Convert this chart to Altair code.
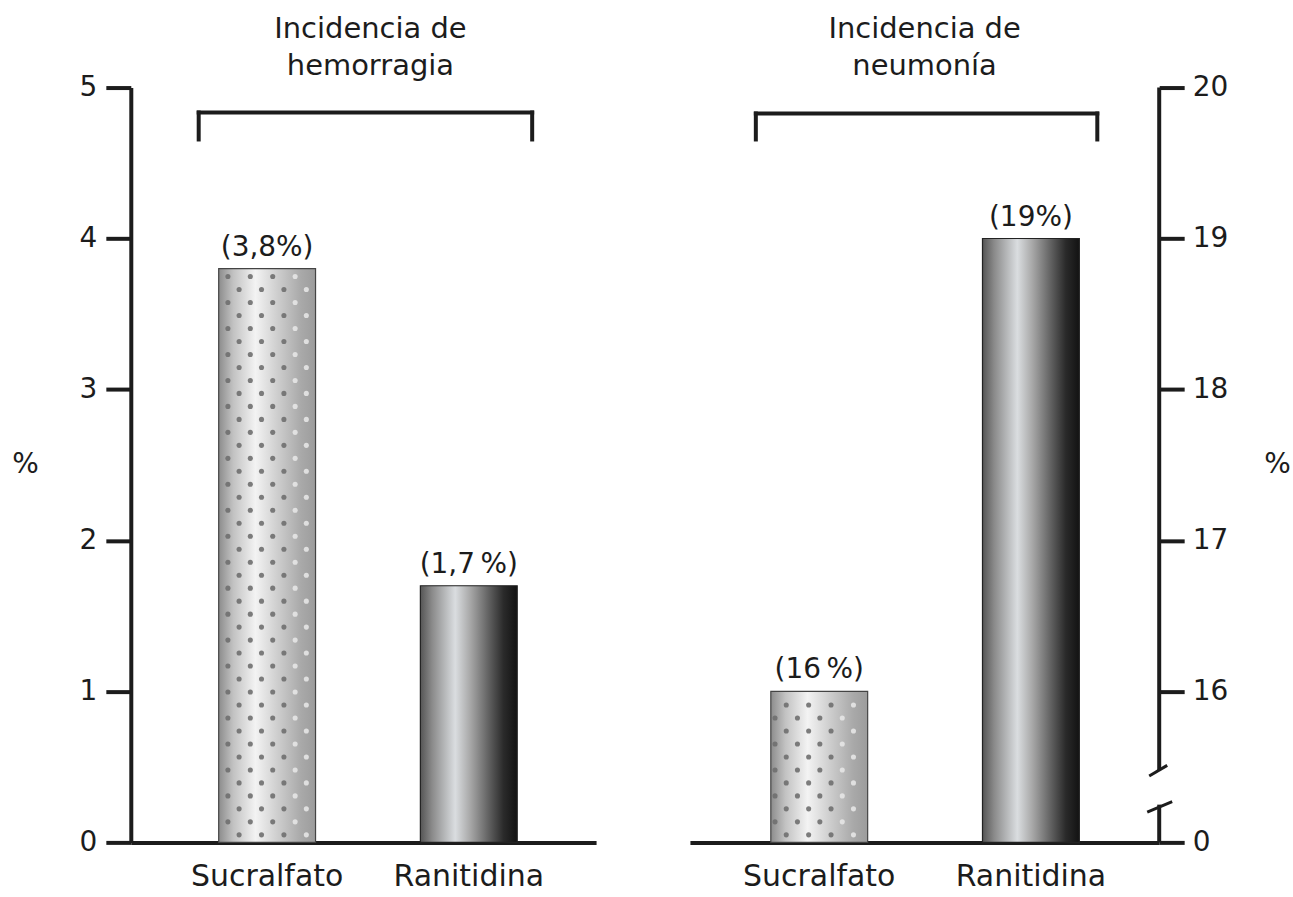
import altair as alt
import pandas as pd

FONT = "DejaVu Sans"
INK = "#1c1c1c"

# ---- data -------------------------------------------------------------
farmacos = ["Sucralfato", "Ranitidina"]
hemorragia = [3.8, 1.7]            # incidencia de hemorragia, %
neumonia = [16, 19]                # incidencia de neumonía, %
etiq_hemorragia = ["(3,8%)", "(1,7\u2009%)"]
etiq_neumonia = ["(16\u2009%)", "(19%)"]
ticks_izq = [0, 1, 2, 3, 4, 5]
ticks_der = [0, 16, 17, 18, 19, 20]

# the right axis is broken between 0 and 16: values above the break are
# drawn shifted down by this amount so that 16 sits one unit above 0
CORTE = 15

W_IZQ, W_DER, H = 466, 470, 756

df_h = pd.DataFrame({"farmaco": farmacos, "valor": hemorragia, "etiqueta": etiq_hemorragia})
df_n = pd.DataFrame({"farmaco": farmacos, "valor": neumonia, "etiqueta": etiq_neumonia})

grad_sucralfato = alt.Gradient(
    gradient="linear", x1=0, x2=1, y1=0, y2=0,
    stops=[
        alt.GradientStop(offset=0.0, color="#8c8c8c"),
        alt.GradientStop(offset=0.15, color="#c2c2c2"),
        alt.GradientStop(offset=0.38, color="#f3f3f3"),
        alt.GradientStop(offset=0.6, color="#cfcfcf"),
        alt.GradientStop(offset=0.85, color="#a9a9a9"),
        alt.GradientStop(offset=1.0, color="#9c9c9c"),
    ],
)
grad_ranitidina = alt.Gradient(
    gradient="linear", x1=0, x2=1, y1=0, y2=0,
    stops=[
        alt.GradientStop(offset=0.0, color="#555555"),
        alt.GradientStop(offset=0.12, color="#8a8a8a"),
        alt.GradientStop(offset=0.36, color="#dadde0"),
        alt.GradientStop(offset=0.52, color="#a6a6a6"),
        alt.GradientStop(offset=0.72, color="#5c5c5c"),
        alt.GradientStop(offset=0.86, color="#2a2a2a"),
        alt.GradientStop(offset=1.0, color="#121212"),
    ],
)

uno = pd.DataFrame({"k": [0]})


def panel(df, width, shift, pad_outer, align, y_axis, bracket, title_dx, title_lines, extra=None):
    base = alt.Chart(df).transform_calculate(alto=f"datum.valor - {shift}")

    x_enc = alt.X(
        "farmaco:N", sort=farmacos,
        scale=alt.Scale(paddingInner=0, paddingOuter=pad_outer, align=align),
        axis=alt.Axis(title=None, labelAngle=0, ticks=False, domainWidth=4, domainColor=INK,
                      labelFont=FONT, labelFontSize=30, labelColor=INK, labelPadding=19),
    )
    y_enc = alt.Y("alto:Q", scale=alt.Scale(domain=[0, 5], nice=False, zero=True), axis=y_axis)

    bar_s = base.transform_filter(alt.datum.farmaco == "Sucralfato").mark_bar(
        width=97, color=grad_sucralfato, stroke="#444", strokeWidth=1.2
    ).encode(x=x_enc, y=y_enc)
    bar_r = base.transform_filter(alt.datum.farmaco == "Ranitidina").mark_bar(
        width=97, color=grad_ranitidina, stroke="#222", strokeWidth=1.2
    ).encode(x=x_enc, y=y_enc)

    # dotted texture on the sucralfato bar, staggered rows
    puntos = (
        base.transform_filter(alt.datum.farmaco == "Sucralfato")
        .transform_calculate(fila="sequence(0, floor((datum.alto - 0.09) / 0.086) + 1)")
        .transform_flatten(["fila"])
        .transform_calculate(col="sequence(5, 13)")
        .transform_flatten(["col"])
        .transform_filter("(datum.fila + datum.col) % 2 == 0")
        .transform_calculate(ypt="0.05 + datum.fila * 0.086", luz="datum.col >= 11 ? 1 : 0")
        .mark_circle(size=26, opacity=0.9)
        .encode(
            x=x_enc,
            xOffset=alt.XOffset("col:O", scale=alt.Scale(domain=list(range(18)))),
            y=alt.Y("ypt:Q"),
            color=alt.condition("datum.luz == 1", alt.value("#e6e6e6"), alt.value("#6f6f6f")),
        )
    )

    etiquetas = base.mark_text(
        baseline="alphabetic", dy=-13, font=FONT, fontSize=28, color=INK
    ).encode(x=x_enc, y=y_enc, text="etiqueta:N")

    x0, x1, ytop, ybot = bracket
    llave = [
        alt.Chart(uno).mark_rule(strokeWidth=4, color=INK, strokeCap="square").encode(
            x=alt.value(x0), x2=alt.value(x1), y=alt.value(ytop)),
        alt.Chart(uno).mark_rule(strokeWidth=4, color=INK, strokeCap="square").encode(
            x=alt.value(x0), y=alt.value(ytop), y2=alt.value(ybot)),
        alt.Chart(uno).mark_rule(strokeWidth=4, color=INK, strokeCap="square").encode(
            x=alt.value(x1), y=alt.value(ytop), y2=alt.value(ybot)),
    ]

    capas = [bar_s, puntos, bar_r, etiquetas] + llave + (extra or [])
    return alt.layer(*capas).properties(
        width=width, height=H,
        title=alt.TitleParams(
            text=title_lines, font=FONT, fontSize=29, fontWeight="normal", color=INK,
            lineHeight=37, anchor="middle", dx=title_dx, offset=-7,
        ),
    )


eje_izq = alt.Axis(
    orient="left", values=ticks_izq, format="d", grid=False, domainWidth=4, domainColor=INK,
    tickSize=25, tickWidth=4, tickColor=INK, labelFont=FONT, labelFontSize=28,
    labelColor=INK, labelPadding=9,
    title="%", titleAngle=0, titleX=-106, titleY=H / 2, titleAlign="center",
    titleBaseline="middle", titleFont=FONT, titleFontSize=28, titleFontWeight="normal",
    titleColor=INK,
)

# right axis: ticks 0..5 on the drawing scale, labelled 0, 16..20
eje_der = alt.Axis(
    orient="right", values=[0, 1, 2, 3, 4, 5], grid=False, domain=False,
    labelExpr=f"datum.value == 0 ? '0' : toString(datum.value + {CORTE})",
    tickSize=25, tickWidth=4, tickColor=INK, labelFont=FONT, labelFontSize=28,
    labelColor=INK, labelPadding=8,
    title="%", titleAngle=0, titleX=118, titleY=H / 2, titleAlign="center",
    titleBaseline="middle", titleFont=FONT, titleFontSize=28, titleFontWeight="normal",
    titleColor=INK,
)

# broken axis line on the right panel
corte = [
    alt.Chart(uno).mark_rule(strokeWidth=4, color=INK).encode(
        x=alt.value(W_DER), y=alt.datum(5), y2=alt.datum(0.48)),
    alt.Chart(uno).mark_rule(strokeWidth=4, color=INK).encode(
        x=alt.value(W_DER), y=alt.datum(0.25), y2=alt.datum(0)),
    alt.Chart(uno).mark_rule(strokeWidth=3, color=INK).encode(
        x=alt.value(W_DER - 10), x2=alt.value(W_DER + 8), y=alt.datum(0.44), y2=alt.datum(0.51)),
    alt.Chart(uno).mark_rule(strokeWidth=3, color=INK).encode(
        x=alt.value(W_DER - 12), x2=alt.value(W_DER + 13), y=alt.datum(0.2), y2=alt.datum(0.27)),
]

izq = panel(df_h, W_IZQ, 0, 0.1535, 0.573, eje_izq, (68, 402, 25, 52), 7,
            ["Incidencia de", "hemorragia"])
der = panel(df_n, W_DER, CORTE, 0.1085, 0.511, eje_der, (66, 408, 26, 52), 0,
            ["Incidencia de", "neumonía"], extra=corte)

chart = (
    alt.hconcat(izq, der, spacing=94)
    .properties(padding={"left": 11, "top": 14, "right": 2, "bottom": 2}, background="white")
    .configure_view(strokeWidth=0, stroke=None)
)

chart.save("out.html", embed_options={"renderer": "svg", "actions": False})
